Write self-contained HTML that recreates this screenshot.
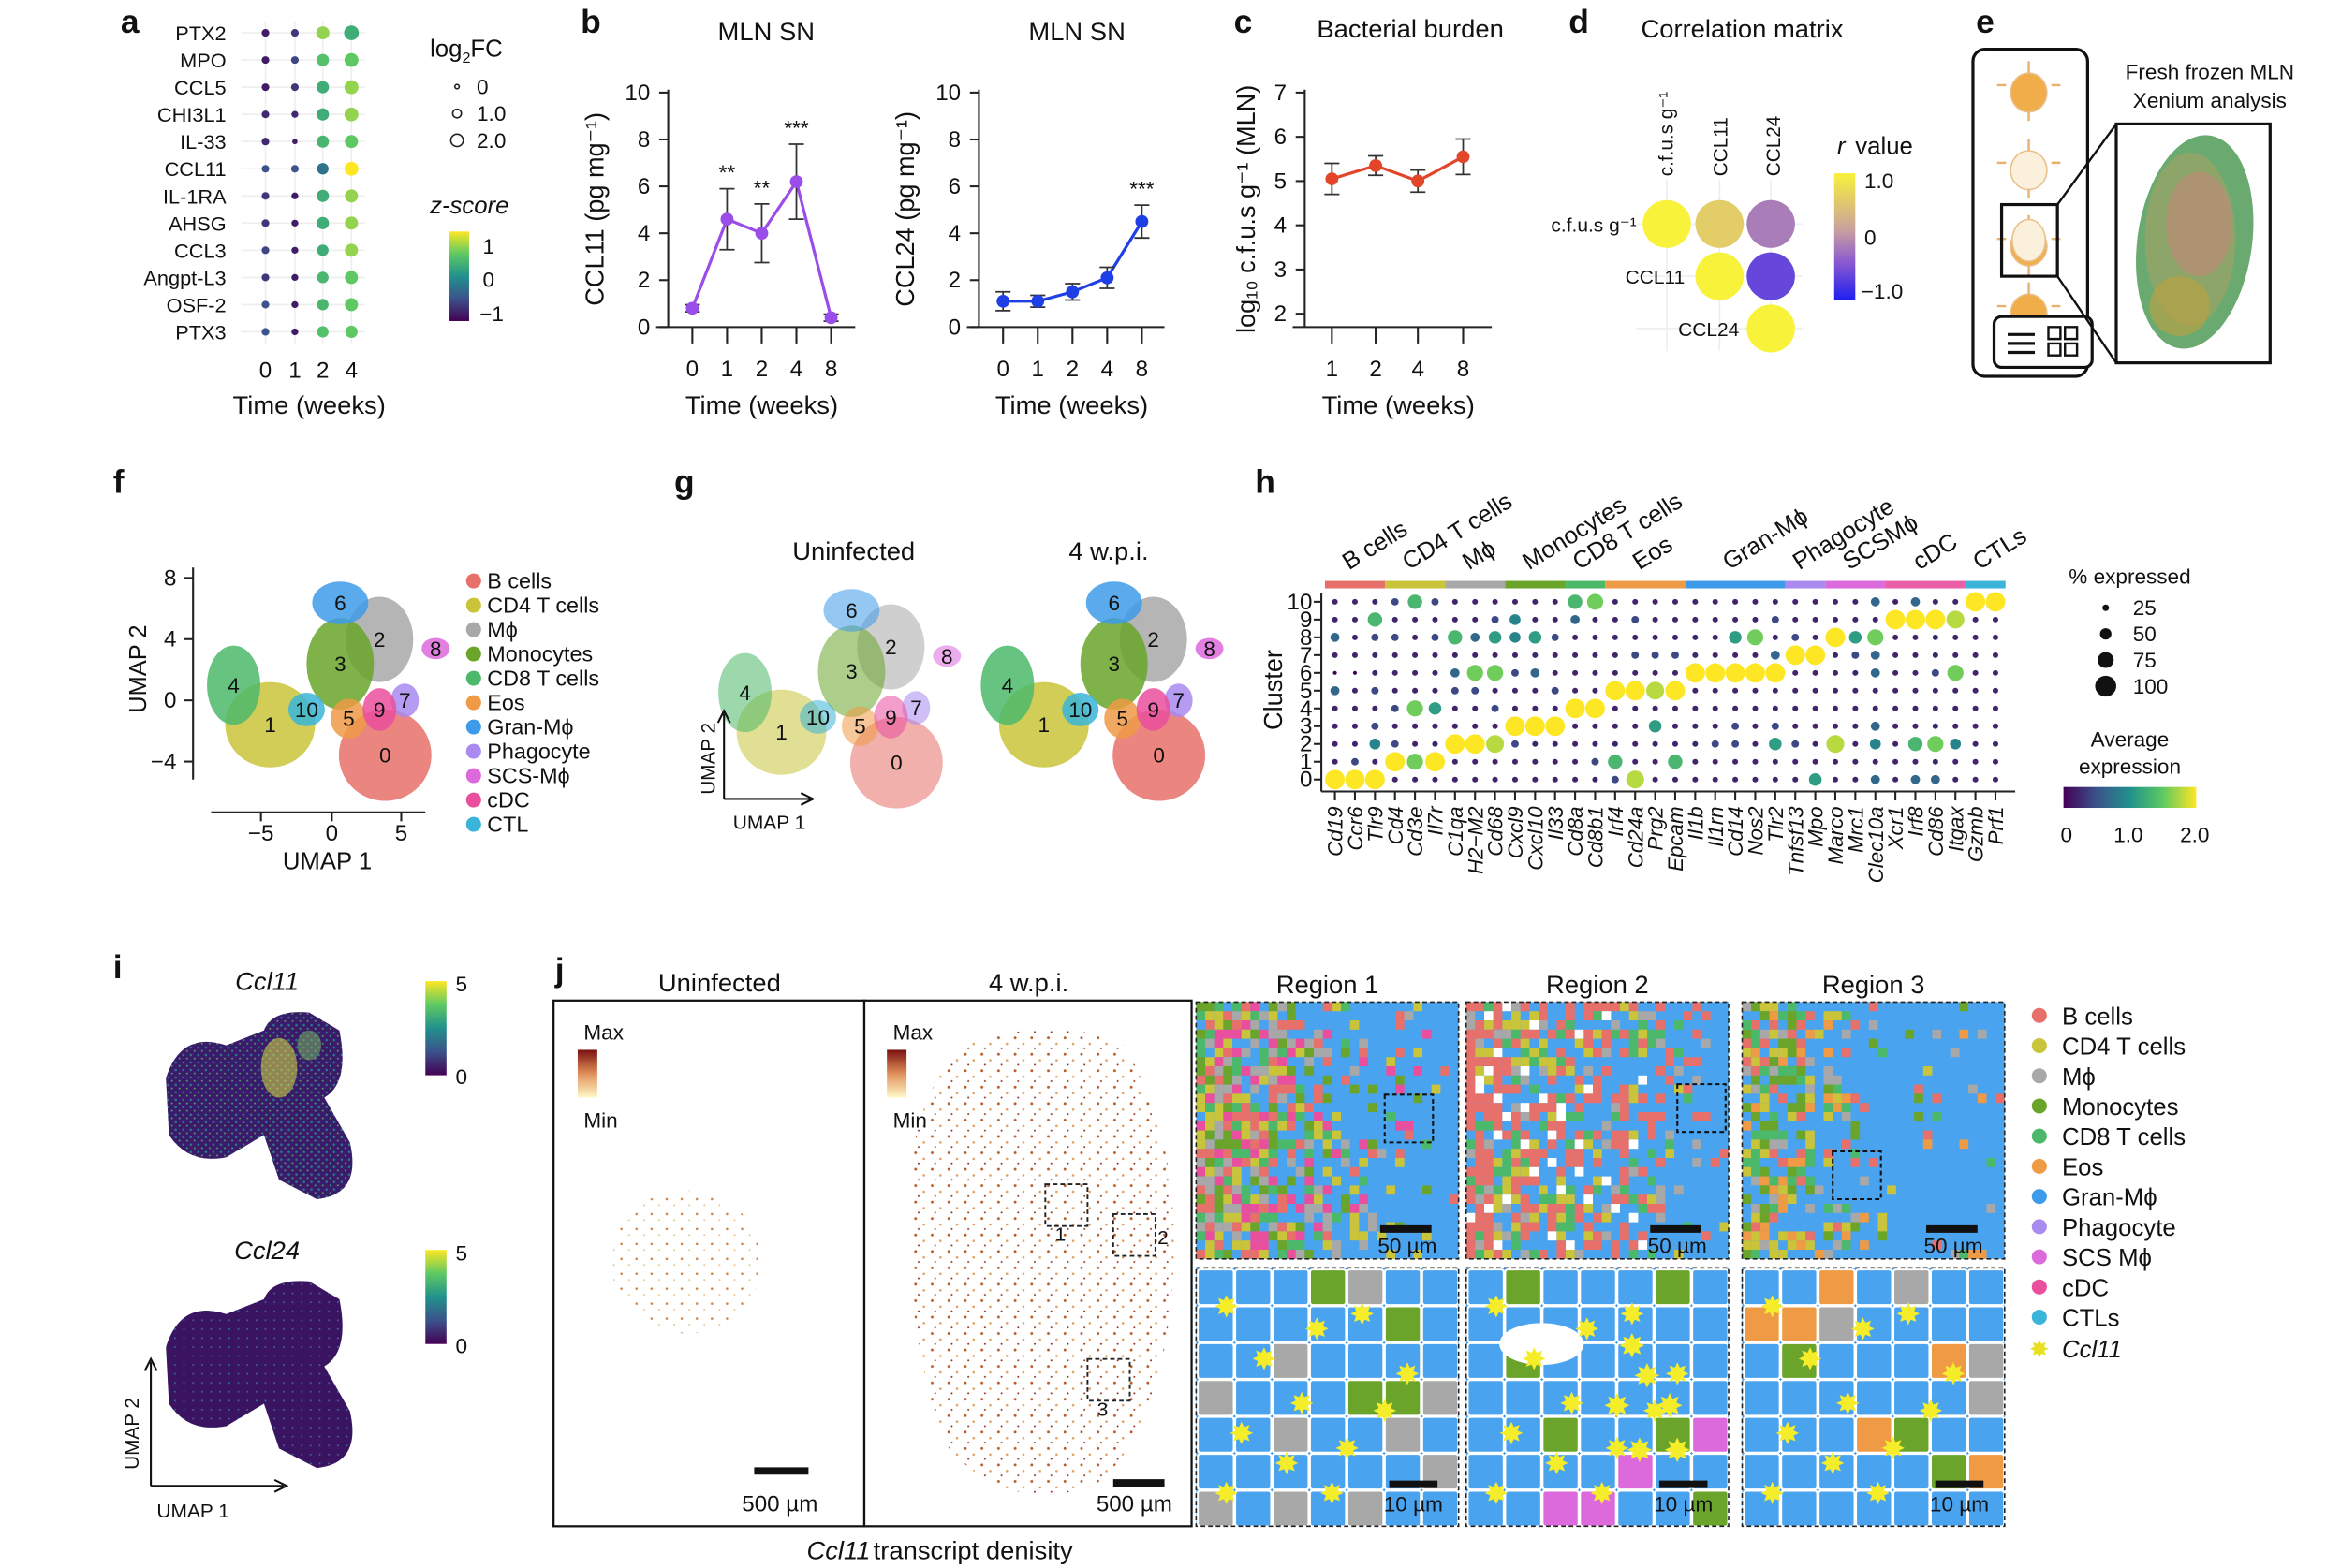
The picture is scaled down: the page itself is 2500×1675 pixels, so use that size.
<!DOCTYPE html>
<html><head><meta charset="utf-8"><style>
html,body{margin:0;padding:0;background:#fff;}
svg{display:block;font-family:"Liberation Sans",Arial,sans-serif;}
</style></head><body>
<svg id="fig" width="2500" height="1675" viewBox="0 0 1552 1050" preserveAspectRatio="none" xmlns="http://www.w3.org/2000/svg">
<defs>
<linearGradient id="vir" x1="0" y1="1" x2="0" y2="0"><stop offset="0" stop-color="#440154"/><stop offset="0.25" stop-color="#3b528b"/><stop offset="0.5" stop-color="#21918c"/><stop offset="0.75" stop-color="#5ec962"/><stop offset="1" stop-color="#fde725"/></linearGradient>
<linearGradient id="virh" x1="0" y1="0" x2="1" y2="0"><stop offset="0" stop-color="#440154"/><stop offset="0.25" stop-color="#3b528b"/><stop offset="0.5" stop-color="#21918c"/><stop offset="0.75" stop-color="#5ec962"/><stop offset="1" stop-color="#fde725"/></linearGradient>
<linearGradient id="rgrad" x1="0" y1="1" x2="0" y2="0"><stop offset="0" stop-color="#1f1ff0"/><stop offset="0.3" stop-color="#8a5ad0"/><stop offset="0.55" stop-color="#c8a0a0"/><stop offset="1" stop-color="#f8f23a"/></linearGradient>
<linearGradient id="dgrad" x1="0" y1="1" x2="0" y2="0"><stop offset="0" stop-color="#fff8c8"/><stop offset="0.5" stop-color="#e0905a"/><stop offset="1" stop-color="#7a1010"/></linearGradient>
<pattern id="dens" width="11" height="11" patternUnits="userSpaceOnUse"><circle cx="2" cy="2" r="0.9" fill="#b85a25"/><circle cx="7.5" cy="6" r="0.8" fill="#e0a060"/><circle cx="4" cy="9" r="0.6" fill="#8a2a10"/></pattern>
<pattern id="densL" width="10" height="10" patternUnits="userSpaceOnUse"><circle cx="2" cy="3" r="0.8" fill="#d08040"/><circle cx="7" cy="7" r="0.6" fill="#eec080"/></pattern>
<pattern id="virdots" width="5" height="5" patternUnits="userSpaceOnUse"><rect width="5" height="5" fill="#3a1a6a"/><circle cx="1.5" cy="1.5" r="0.8" fill="#2a7a8a"/><circle cx="4" cy="3.8" r="0.6" fill="#5aa060"/></pattern>
<pattern id="virdots2" width="6" height="6" patternUnits="userSpaceOnUse"><rect width="6" height="6" fill="#3a1460"/><circle cx="2" cy="2" r="0.6" fill="#3a6a9a"/></pattern>
</defs>
</svg>
<script>
const svg=document.getElementById('fig');const NS='http://www.w3.org/2000/svg';
function el(tag,a,p){const e=document.createElementNS(NS,tag);for(const k in a)e.setAttribute(k,a[k]);(p||svg).appendChild(e);return e;}
function T(x,y,s,o){o=o||{};const e=el('text',{x:x,y:y,'font-size':o.fs||14,'text-anchor':o.a||'middle',fill:o.c||'#111','font-weight':o.w||'normal','font-style':o.i?'italic':'normal'});if(o.r)e.setAttribute('transform','rotate('+o.r+' '+x+' '+y+')');e.textContent=s;


return e;}
function L(x1,y1,x2,y2,c,w){const e=el('line',{x1:x1,y1:y1,x2:x2,y2:y2,stroke:c||'#222','stroke-width':w||1.3});


return e;}
function hsh(i,j,k){let h=(Math.imul(i,374761393)+Math.imul(j,668265263)+Math.imul(k+1,2246822519))|0;h=Math.imul(h^(h>>>13),1274126177);h=h^(h>>>16);return ((h>>>0)%10000)/10000;}
const VIR=[[68,1,84],[59,82,139],[33,145,140],[94,201,98],[253,231,37]];
function vir(t){t=Math.max(0,Math.min(1,t));const s=t*4,i=Math.min(3,Math.floor(s)),f=s-i;const a=VIR[i],b=VIR[i+1];return 'rgb('+a.map((v,k)=>Math.round(v+(b[k]-v)*f)).join(',')+')';}

// ===== Panel a data =====
const genesA=['PTX2','MPO','CCL5','CHI3L1','IL-33','CCL11','IL-1RA','AHSG','CCL3','Angpt-L3','OSF-2','PTX3'];
const timesA=['0','1','2','4'];
const zA=[[-1,-0.8,0.8,0.3],[-1,-0.7,0.5,0.6],[-1,-0.8,0.3,0.8],[-0.9,-0.9,0.3,0.8],[-0.9,-1,0.4,0.6],[-0.6,-0.6,-0.3,1.2],[-0.8,-1,0.3,0.8],[-0.8,-1,0.3,0.8],[-0.7,-1,0.3,0.8],[-0.8,-1,0.4,0.6],[-0.6,-1,0.4,0.6],[-0.6,-1,0.5,0.6]];
const fcA=[[0.4,0.4,1.1,1.3],[0.4,0.4,1.0,1.2],[0.4,0.4,1.0,1.2],[0.4,0.3,1.0,1.2],[0.4,0.1,1.0,1.1],[0.4,0.4,0.9,1.2],[0.4,0.3,1.0,1.1],[0.4,0.3,1.0,1.1],[0.4,0.3,0.9,1.1],[0.4,0.3,0.9,1.1],[0.4,0.3,0.9,1.1],[0.4,0.3,0.9,1.0]];
// ===== Panel b/c data =====
const timesB=['0','1','2','4','8'];
const ccl11=[0.8,4.6,4.0,6.2,0.4];const ccl11Err=[0.15,1.3,1.25,1.6,0.15];const ccl11Sig=['','**','**','***',''];
const ccl24=[1.1,1.1,1.5,2.1,4.5];const ccl24Err=[0.4,0.25,0.35,0.45,0.7];const ccl24Sig=['','','','','***'];
const timesC=['1','2','4','8'];const cfu=[5.05,5.35,5.0,5.55];const cfuErr=[0.35,0.22,0.25,0.4];
// ===== Panel d data =====
const corrNames=['c.f.u.s g⁻¹','CCL11','CCL24'];const corrVals=[[1,0.55,-0.2],[null,1,-0.6],[null,null,1]];
// ===== Panel h data =====
const genesH=['Cd19','Ccr6','Tlr9','Cd4','Cd3e','Il7r','C1qa','H2−M2','Cd68','Cxcl9','Cxcl10','Il33','Cd8a','Cd8b1','Irf4','Cd24a','Prg2','Epcam','Il1b','Il1rn','Cd14','Nos2','Tlr2','Tnfsf13','Mpo','Marco','Mrc1','Clec10a','Xcr1','Irf8','Cd86','Itgax','Gzmb','Prf1'];
const exprH=['91111301311','92111101111','91421211261','19212111212','17117111116','19115111212','11911231611','11911271311','11812171521','11291121441','11191131511','11191211211','11119111136','12119111117','26111911111','81111912121','11151812111','16111912111','11111191111','11211191111','11221191511','11111191711','11521193121','11211119211','51111119111','11811111911','11111112511','31431133713','11111111191','31611111193','31711121191','11411171181','11111111119','11111111119'];
const groupsH=['B cells','CD4 T cells','Mϕ','Monocytes','CD8 T cells','Eos','Gran-Mϕ','Phagocyte','SCSMϕ','cDC','CTLs'];
const groupSpanH=[[0,3],[3,6],[6,9],[9,12],[12,14],[14,18],[18,23],[23,25],[25,28],[28,32],[32,34]];
const groupColH=['#e8706a','#c9c43a','#a8a8a8','#6aa42a','#4cb86a','#ef9a45','#3d9be9','#a98af0','#dd6add','#ea5fa8','#3ab5d9'];
// ===== UMAP clusters =====
const cellTypes=['B cells','CD4 T cells','Mϕ','Monocytes','CD8 T cells','Eos','Gran-Mϕ','Phagocyte','SCS-Mϕ','cDC','CTL'];
const typeCols=['#e8706a','#c9c43a','#a8a8a8','#6aa42a','#4cb86a','#ef9a45','#3d9be9','#a98af0','#dd6add','#ea4f9e','#3ab5d9'];
const umapX=[3.8,-4.4,3.4,0.6,-7.0,1.2,0.6,5.2,7.4,3.4,-1.8];
const umapY=[-3.6,-1.6,4.0,2.4,1.0,-1.2,6.4,0.0,3.4,-0.6,-0.6];
const umapSX=[3.3,3.2,2.4,2.4,1.9,1.3,2.0,1.0,1.0,1.2,1.3];
const umapSY=[3.0,2.8,2.8,3.0,2.6,1.3,1.4,1.1,0.7,1.4,1.1];
const umapCol=[0,1,2,3,4,5,6,7,8,9,10];

function ax(n,tag){}

[['a',80,22],['b',385,22],['c',818,22],['d',1040,22],['e',1310,22],['f',75,330],['g',447,330],['h',832,330],['i',75,655],['j',368,657]].forEach(p=>{T(p[1],p[2],p[0],{fs:22,w:'bold',a:'start',n:'panel-letter-'+p[0]});});

// ---------- Panel a ----------
(function(){
const colX=i=>176+[0,19.5,38,57][i];const rowY=r=>22+r*18.2;
timesA.forEach((t,i)=>{L(colX(i),14,colX(i),230,'#eee',1);T(colX(i),253,t,{fs:15,n:'a-x-tick'});});
genesA.forEach((g,r)=>{L(160,rowY(r),242,rowY(r),'#eee',1);T(150,rowY(r)+5,g,{fs:13.5,a:'end',n:'a-gene-label'});
timesA.forEach((t,i)=>{const c=el('circle',{cx:colX(i),cy:rowY(r),r:1.5+fcA[r][i]*2.6,fill:vir((zA[r][i]+1.2)/2.4)});

});});
T(205,277,'Time (weeks)',{fs:17,n:'a-x-title'});
const lg=T(285,38,'log',{fs:16,a:'start',n:'a-legend-title'});const sub=el('tspan',{'font-size':10,dy:4},lg);sub.textContent='2';const fc=el('tspan',{dy:-4},lg);fc.textContent='FC';
[[0,1.6],[1.0,3.2],[2.0,4.6]].forEach((v,i)=>{const c=el('circle',{cx:303,cy:58+i*18,r:v[1]*0.9,fill:'none',stroke:'#222','stroke-width':1});

T(316,63+i*18,i==0?'0':v[0].toFixed(1),{fs:14,a:'start',n:'a-size-legend-label'});});
T(285,143,'z-score',{fs:16,a:'start',i:true,n:'a-color-title'});
const cb=el('rect',{x:298,y:155,width:13,height:60,fill:'url(#vir)'});ax(cb,'a-colorbar');
T(320,170,'1',{fs:14,a:'start'});T(320,192,'0',{fs:14,a:'start'});T(318,215,'−1',{fs:14,a:'start'});
})();

function lineChart(o){
const yS=v=>o.y0-(v-o.vmin)/(o.vmax-o.vmin)*(o.y0-o.y1);
L(o.ax,o.y1-2,o.ax,o.y0,'#222',1.3);L(o.ax-8,o.y0,o.xe,o.y0,'#222',1.3);
o.ticks.forEach(v=>{L(o.ax-6,yS(v),o.ax,yS(v));T(o.ax-12,yS(v)+5,String(v),{fs:15,a:'end',n:o.n+'-y-tick'});});
o.cats.forEach((c,i)=>{L(o.xs[i],o.y0,o.xs[i],o.y0+11);T(o.xs[i],o.y0+33,c,{fs:15,n:o.n+'-x-tick'});});
T((o.ax+o.xe)/2,o.y0+58,'Time (weeks)',{fs:17,n:o.n+'-x-title'});
let d='';o.vals.forEach((v,i)=>{d+=(i?'L':'M')+o.xs[i]+' '+yS(v);});
const p=el('path',{d:d,fill:'none',stroke:o.col,'stroke-width':2});ax(p,o.n+'-line');
o.vals.forEach((v,i)=>{const e=o.err[i];const g=el('path',{d:'M'+o.xs[i]+' '+yS(v-e)+'V'+yS(v+e)+'M'+(o.xs[i]-5)+' '+yS(v-e)+'h10M'+(o.xs[i]-5)+' '+yS(v+e)+'h10',stroke:'#333','stroke-width':1.1,fill:'none'});ax(g,o.n+'-error-bar');
const c=el('circle',{cx:o.xs[i],cy:yS(v),r:4.3,fill:o.col});


if(o.sig&&o.sig[i])T(o.xs[i],yS(v+e)-6,o.sig[i],{fs:14,n:'significance'});});
}
lineChart({n:'b1',ax:443,xe:567,y0:219,y1:62,vmin:0,vmax:10,ticks:[0,2,4,6,8,10],cats:timesB,xs:[459,482,505,528,551],vals:ccl11,err:ccl11Err,sig:ccl11Sig,col:'#9a4de8'});
lineChart({n:'b2',ax:649,xe:772,y0:219,y1:62,vmin:0,vmax:10,ticks:[0,2,4,6,8,10],cats:timesB,xs:[665,688,711,734,757],vals:ccl24,err:ccl24Err,sig:ccl24Sig,col:'#1f3fe6'});
lineChart({n:'c',ax:865,xe:989,y0:219,y1:62,vmin:1.7,vmax:7,ticks:[2,3,4,5,6,7],cats:timesC,xs:[883,912,940,970],vals:cfu,err:cfuErr,col:'#e2452a'});
T(508,27,'MLN SN',{fs:17,n:'b1-title'});T(714,27,'MLN SN',{fs:17,n:'b2-title'});T(935,25,'Bacterial burden',{fs:17,n:'c-title'});
T(400,140,'CCL11 (pg mg⁻¹)',{fs:17,r:-90,n:'b1-y-title'});T(606,140,'CCL24 (pg mg⁻¹)',{fs:17,r:-90,n:'b2-y-title'});
T(832,140,'log₁₀ c.f.u.s g⁻¹ (MLN)',{fs:17,r:-90,n:'c-y-title'});

// ---------- Panel d ----------
(function(){
T(1155,25,'Correlation matrix',{fs:17,n:'d-title'});
const cx=[1105,1140,1174],cy=[150,185,220];
function rc(v){const s=[[-1,[31,31,240]],[-0.4,[138,90,208]],[0,[200,160,160]],[1,[248,242,58]]];for(let i=0;i<3;i++){if(v<=s[i+1][0]){const f=(v-s[i][0])/(s[i+1][0]-s[i][0]);return 'rgb('+s[i][1].map((a,k)=>Math.round(a+(s[i+1][1][k]-a)*f)).join(',')+')';}}return 'rgb(248,242,58)';}
for(let i=0;i<3;i++){L(cx[i],120,cx[i],235,'#eee',1);L(1085,cy[i],1195,cy[i],'#eee',1);}
corrVals.forEach((row,i)=>row.forEach((v,j)=>{if(v===null)return;const c=el('circle',{cx:cx[j],cy:cy[i],r:16,fill:rc(v)});

}));
T(1085,155,'c.f.u.s g⁻¹',{fs:13,a:'end',n:'d-row-label'});T(1117,190,'CCL11',{fs:13,a:'end',n:'d-row-label'});T(1153,225,'CCL24',{fs:13,a:'end',n:'d-row-label'});
T(1109,118,'c.f.u.s g⁻¹',{fs:13,a:'start',r:-90,n:'d-col-label'});T(1145,118,'CCL11',{fs:13,a:'start',r:-90,n:'d-col-label'});T(1180,118,'CCL24',{fs:13,a:'start',r:-90,n:'d-col-label'});
T(1218,103,'r',{fs:16,a:'start',i:true,n:'d-legend-title'});T(1230,103,'value',{fs:16,a:'start',n:'d-legend-title'});
const cb=el('rect',{x:1216,y:116,width:14,height:85,fill:'url(#rgrad)'});ax(cb,'d-colorbar');
T(1236,126,'1.0',{fs:14,a:'start'});T(1236,164,'0',{fs:14,a:'start'});T(1234,200,'−1.0',{fs:14,a:'start'});
})();

// ---------- Panel e ----------
(function(){
const g=el('g',{});ax(g,'e-schematic');
el('rect',{x:1308,y:33,width:76,height:219,rx:8,fill:'#fff',stroke:'#111','stroke-width':2},g);
[62,114,165,210].forEach((yy,i)=>{const col=['#f0ad4a','#fbf0dc','#f0ad4a','#f0ad4a'][i];
el('ellipse',{cx:1345,cy:yy,rx:12,ry:13,fill:col,stroke:'#e9c08a','stroke-width':1},g);
el('path',{d:'M1330 '+(yy-5)+'h-6M1360 '+(yy-5)+'h6M1345 '+(yy-13)+'v-8M1345 '+(yy+13)+'v6',stroke:'#e9b070','stroke-width':1.5},g);});
el('ellipse',{cx:1345,cy:161,rx:11,ry:14,fill:'#fbf0dc',stroke:'#e9c08a'},g);
el('rect',{x:1327,y:137,width:37,height:48,fill:'none',stroke:'#111','stroke-width':2},g);
el('rect',{x:1322,y:212,width:65,height:34,rx:5,fill:'#fff',stroke:'#111','stroke-width':2},g);
el('path',{d:'M1331 224h18M1331 230h18M1331 236h18',stroke:'#111','stroke-width':2},g);
el('path',{d:'M1358 219h8v8h-8zM1369 219h8v8h-8zM1358 230h8v8h-8zM1369 230h8v8h-8z',fill:'none',stroke:'#111','stroke-width':1.5},g);
el('rect',{x:1403,y:83,width:102,height:160,fill:'#fff',stroke:'#111','stroke-width':2},g);
el('path',{d:'M1364 137L1403 83M1364 185L1403 243',stroke:'#111','stroke-width':1.5},g);
el('ellipse',{cx:1455,cy:162,rx:38,ry:72,fill:'#6aaa70',transform:'rotate(8 1455 162)'},g);
el('ellipse',{cx:1452,cy:160,rx:30,ry:58,fill:'#b8a060',opacity:0.45},g);
el('ellipse',{cx:1458,cy:150,rx:22,ry:35,fill:'#d88080',opacity:0.45},g);
el('ellipse',{cx:1445,cy:205,rx:20,ry:20,fill:'#c0a040',opacity:0.6},g);
T(1465,53,'Fresh frozen MLN',{fs:14,n:'e-caption'});T(1465,72,'Xenium analysis',{fs:14,n:'e-caption'});
})();

function umap(ox,oy,op,tag){
const sx=v=>ox+v*9.3,sy=v=>oy-v*10.2;
umapX.forEach((x,i)=>{const e=el('ellipse',{cx:sx(x),cy:sy(umapY[i]),rx:umapSX[i]*9.3,ry:umapSY[i]*10.2,fill:typeCols[umapCol[i]],opacity:op});

});
umapX.forEach((x,i)=>{T(sx(x),sy(umapY[i])+5,String(i),{fs:14,n:tag+'-cluster-label'});});
}
umap(220,469,0.85,'f');
L(128,380,128,522);L(140,544,282,544);
[[-5,173],[0,220],[5,266]].forEach(t=>{L(t[1],544,t[1],550);T(t[1],563,t[0]<0?'−5':String(t[0]),{fs:15,n:'f-x-tick'});});
[[8,387],[4,428],[0,469],[-4,510]].forEach(t=>{L(122,t[1],128,t[1]);T(117,t[1]+5,t[0]<0?'−4':String(t[0]),{fs:15,a:'end',n:'f-y-tick'});});
T(217,582,'UMAP 1',{fs:16,n:'f-x-title'});T(97,448,'UMAP 2',{fs:16,r:-90,n:'f-y-title'});
cellTypes.forEach((c,i)=>{const d=el('circle',{cx:314,cy:389+i*16.3,r:5,fill:typeCols[i]});


T(323,394+i*16.3,c,{fs:14.5,a:'start',n:'f-legend-label'});});
umap(559,474,0.55,'g1');umap(733,469,0.85,'g2');
T(566,375,'Uninfected',{fs:17,n:'g1-title'});T(735,375,'4 w.p.i.',{fs:17,n:'g2-title'});
el('path',{d:'M480 535V478M480 535H537M476 484L480 476L484 484M531 531L539 535L531 539',stroke:'#111','stroke-width':1.3,fill:'none'});
T(510,555,'UMAP 1',{fs:13,n:'g-x-title'});T(474,508,'UMAP 2',{fs:13,r:-90,n:'g-y-title'});

// ---------- Panel h ----------
(function(){
const gx=i=>885+i*13.27,cy=c=>522-c*11.9;
L(876,397,876,530);L(876,530,1336,530);
groupSpanH.forEach((s,k)=>{const r=el('rect',{x:gx(s[0])-6.6,y:389,width:(s[1]-s[0])*13.27,height:5,fill:groupColH[k]});ax(r,'h-group-bar');
const xm=gx(s[0])+(s[1]-s[0]-1)*13.27/2;T(xm-4,382,groupsH[k],{fs:16,a:'start',r:-32,n:'h-group-label'});});
for(let c=0;c<=10;c++){T(870,cy(c)+5,String(c),{fs:15,a:'end',n:'h-y-tick'});L(871,cy(c),876,cy(c));}
genesH.forEach((g,i)=>{L(gx(i),530,gx(i),536);T(gx(i)+5,540,g,{fs:14,a:'end',i:true,r:-90,n:'h-gene-label'});
for(let c=0;c<=10;c++){const v=+exprH[i][c];const d=el('circle',{cx:gx(i),cy:cy(c),r:1.3+v*0.58,fill:vir(v/9)});

}});
T(850,462,'Cluster',{fs:17,r:-90,n:'h-y-title'});
T(1412,391,'% expressed',{fs:14,n:'h-size-title'});
[[25,2.2],[50,3.8],[75,5.3],[100,7]].forEach((v,i)=>{const d=el('circle',{cx:1396,cy:407+i*17.5,r:v[1],fill:'#111'});


T(1414,412+i*17.5,String(v[0]),{fs:14,a:'start'});});
T(1412,500,'Average',{fs:14,n:'h-color-title'});T(1412,518,'expression',{fs:14,n:'h-color-title'});
const cb=el('rect',{x:1368,y:527,width:88,height:14,fill:'url(#virh)'});ax(cb,'h-colorbar');
T(1370,564,'0',{fs:14});T(1411,564,'1.0',{fs:14});T(1455,564,'2.0',{fs:14});
})();

// ---------- Panel i ----------
(function(){
[[0,'Ccl11','url(#virdots)'],[1,'Ccl24','url(#virdots2)']].forEach(p=>{const oy=p[0]*180;
T(177,663+oy,p[1],{fs:17,i:true,n:'i-title'});
const g=el('g',{});ax(g,'i-umap-density');
el('path',{d:'M110 '+(722+oy)+'Q120 '+(690+oy)+' 150 '+(700+oy)+'L175 '+(690+oy)+'Q180 '+(676+oy)+' 205 '+(678+oy)+'L225 '+(690+oy)+'Q232 '+(725+oy)+' 215 '+(735+oy)+'L232 '+(765+oy)+'Q240 '+(800+oy)+' 210 '+(803+oy)+'L185 '+(790+oy)+'L175 '+(760+oy)+'L150 '+(775+oy)+'Q125 '+(780+oy)+' 112 '+(760+oy)+'Z',fill:p[2]},g);
if(p[0]==0){el('ellipse',{cx:185,cy:715,rx:12,ry:20,fill:'#d8e040',opacity:0.55},g);el('ellipse',{cx:205,cy:700,rx:8,ry:10,fill:'#7ac060',opacity:0.5},g);}
const cb=el('rect',{x:282,y:657+oy,width:14,height:63,fill:'url(#vir)'});ax(cb,'i-colorbar');
T(302,664+oy,'5',{fs:14,a:'start'});T(302,726+oy,'0',{fs:14,a:'start'});});
el('path',{d:'M100 995V912M100 995H188M96 918L100 910L104 918M182 991L190 995L182 999',stroke:'#111','stroke-width':1.3,fill:'none'});
T(128,1016,'UMAP 1',{fs:13,n:'i-x-title'});T(92,960,'UMAP 2',{fs:13,r:-90,n:'i-y-title'});
})();

// ---------- Panel j ----------
(function(){
const b1=el('rect',{x:367,y:670,width:206,height:352,fill:'#fff',stroke:'#111','stroke-width':1.4});ax(b1,'j-uninfected-panel');
const b2=el('rect',{x:573,y:670,width:217,height:352,fill:'#fff',stroke:'#111','stroke-width':1.4});ax(b2,'j-4wpi-panel');
T(477,664,'Uninfected',{fs:17,n:'j-title'});T(682,664,'4 w.p.i.',{fs:17,n:'j-title'});
const u=el('ellipse',{cx:455,cy:845,rx:50,ry:48,fill:'url(#densL)'});ax(u,'j-uninfected-density');
const w=el('path',{d:'M640 700Q700 678 745 700Q782 760 778 850Q772 960 725 995Q665 1015 625 965Q598 880 603 790Q608 728 640 700Z',fill:'url(#dens)'});ax(w,'j-4wpi-density');
[['1',693,793],['2',738,813],['3',721,910]].forEach(r=>{const q=el('rect',{x:r[1],y:r[2],width:28,height:28,fill:'none',stroke:'#222','stroke-dasharray':'3,2','stroke-width':1.2});ax(q,'j-region-box');T(r[1]+(r[0]=='2'?33:10),r[2]+(r[0]=='2'?20:38),r[0],{fs:13});});
[[375,683],[580,683]].forEach(m=>{T(m[0]+12,m[1]+13,'Max',{fs:14,a:'start'});const cb=el('rect',{x:m[0]+8,y:m[1]+20,width:13,height:32,fill:'url(#dgrad)'});ax(cb,'j-colorbar');T(m[0]+12,m[1]+72,'Min',{fs:14,a:'start'});});
L(500,985,536,985,'#111',5);T(517,1012,'500 µm',{fs:15,n:'scale-bar-label'});
L(738,993,772,993,'#111',5);T(752,1012,'500 µm',{fs:15,n:'scale-bar-label'});
T(577,1044,'Ccl11',{fs:17,i:true,a:'end',n:'j-caption'});T(579,1044,' transcript denisity',{fs:17,a:'start',n:'j-caption'});
const regX=[793,972,1155];const regTitle=['Region 1','Region 2','Region 3'];
const regMix=[[0.9,0.8,0.7,0.5,0.3,0.2,0.1,0.1],[0.8,0.7,0.6,0.6,0.5,0.3,0.2,0.1],[0.7,0.6,0.3,0.2,0.1,0.1,0.1,0.05]];
const regMain=[[1,2,4,3,0,9],[0,0,0,4,1,2],[0,1,2,3,4,5]];
regX.forEach((x,k)=>{T(x+87,665,regTitle[k],{fs:17,n:'j-region-title'});
const bg=el('rect',{x:x,y:671,width:174,height:172,fill:'#4aa3ef'});ax(bg,'j-region-map');
const cs=6,ch=172/28;
for(let i=0;i<29;i++)for(let j=0;j<28;j++){const band=Math.min(7,Math.floor(i/3.7));const h=hsh(i,j,k);
if(h<regMix[k][band]){const h2=hsh(j,i,k+7);const ci=regMain[k][Math.floor(h2*6)];const r=el('rect',{x:x+i*cs,y:671+j*ch,width:cs,height:ch,fill:(k==1&&h2>0.9&&i<20)?'#ffffff':typeCols[ci]});ax(r,'j-region-cell');}}
const fr=el('rect',{x:x,y:671,width:174,height:172,fill:'none',stroke:'#222','stroke-dasharray':'3,2'});ax(fr,'j-region-frame');
const ib=el('rect',{x:x+[125,140,60][k],y:671+[62,55,100][k],width:32,height:32,fill:'none',stroke:'#111','stroke-dasharray':'3,2','stroke-width':1.3});ax(ib,'j-inset-box');
L(x+122,823,x+156,823,'#111',5);T(x+140,839,'50 µm',{fs:14,n:'scale-bar-label'});
const zb=el('rect',{x:x,y:849,width:174,height:173,fill:'#4aa3ef'});ax(zb,'j-zoom-map');
const cc=[['#a8a8a8','#6aa42a','#a8a8a8'],['#dd6add','#6aa42a','#6aa42a'],['#6aa42a','#a8a8a8','#ef9a45']][k];
for(let i=0;i<7;i++)for(let j=0;j<7;j++){const h=hsh(i+40,j+40,k);const c=el('rect',{x:x+1+i*24.8,y:850+j*24.7,width:24,height:24,rx:2,fill:h<0.25?cc[Math.floor(h*12)%3]:'#4aa3ef',stroke:'#fff','stroke-width':1.4});ax(c,'j-cell');}
if(k==1){const w=el('ellipse',{cx:x+50,cy:900,rx:28,ry:14,fill:'#fff'});ax(w,'j-gap');}
const stars=[[20,25],[45,60],[80,40],[110,30],[30,110],[70,90],[60,130],[100,120],[140,70],[20,150],[125,95],[90,150]];
stars.forEach((s,m)=>{T(x+s[0],849+s[1]+8,'✸',{fs:20,c:'#f5ec2a',n:'ccl11-transcript'});});
if(k==1){[[110,60],[120,80],[135,100],[100,100],[140,130],[115,130]].forEach(s=>{T(x+s[0],849+s[1],'✸',{fs:22,c:'#f5ec2a',n:'ccl11-transcript'});});}
L(x+128,994,x+160,994,'#111',5);T(x+144,1012,'10 µm',{fs:14,n:'scale-bar-label'});
const fz=el('rect',{x:x,y:849,width:174,height:173,fill:'none',stroke:'#222','stroke-dasharray':'3,2'});ax(fz,'j-zoom-frame');});
cellTypes.map(c=>c.replace('SCS-Mϕ','SCS Mϕ').replace('CTL','CTLs')).forEach((c,i)=>{const d=el('circle',{cx:1352,cy:680+i*20.2,r:5,fill:typeCols[i]});


T(1367,686+i*20.2,c,{fs:16,a:'start',n:'j-legend-label'});});
T(1352,909,'✸',{fs:16,c:'#e8e020',n:'j-legend-swatch'});T(1367,909,'Ccl11',{fs:16,a:'start',i:true,n:'j-legend-label'});
})();
</script>
</body></html>
